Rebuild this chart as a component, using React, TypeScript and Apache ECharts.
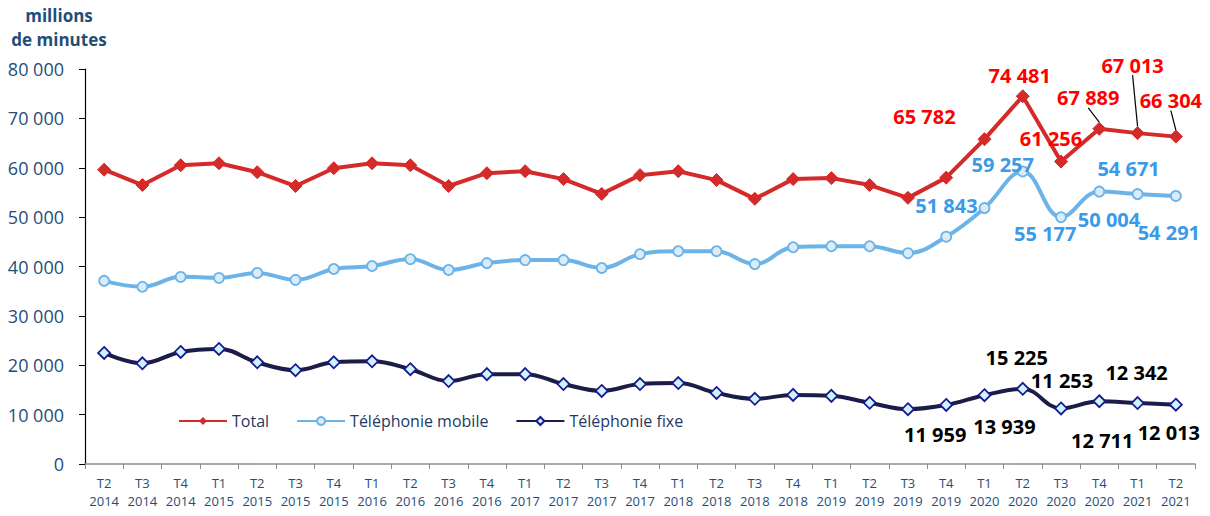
import React, { useEffect, useRef } from "react";
import * as echarts from "echarts";

const categories = [
  "T2\n2014", "T3\n2014", "T4\n2014",
  "T1\n2015", "T2\n2015", "T3\n2015", "T4\n2015",
  "T1\n2016", "T2\n2016", "T3\n2016", "T4\n2016",
  "T1\n2017", "T2\n2017", "T3\n2017", "T4\n2017",
  "T1\n2018", "T2\n2018", "T3\n2018", "T4\n2018",
  "T1\n2019", "T2\n2019", "T3\n2019", "T4\n2019",
  "T1\n2020", "T2\n2020", "T3\n2020", "T4\n2020",
  "T1\n2021", "T2\n2021",
];

const total = [59600, 56500, 60500, 60900, 59100, 56300, 59900, 60900, 60500, 56300, 58900, 59300, 57700, 54700, 58500, 59300, 57500, 53700, 57700, 57900, 56500, 53900, 58000, 65782, 74481, 61256, 67889, 67013, 66304];
const mobile = [37100, 35900, 37900, 37700, 38700, 37300, 39500, 40100, 41500, 39300, 40700, 41300, 41300, 39700, 42500, 43100, 43100, 40500, 43900, 44100, 44100, 42700, 46041, 51843, 59257, 50004, 55177, 54671, 54291];
const fixe = [22500, 20400, 22700, 23300, 20600, 19000, 20600, 20800, 19200, 16800, 18200, 18200, 16200, 14800, 16200, 16400, 14400, 13200, 14000, 13800, 12400, 11100, 11959, 13939, 15225, 11253, 12711, 12342, 12013];

const yTicks = [0, 10000, 20000, 30000, 40000, 50000, 60000, 70000, 80000];

// label placement (pixel offsets from the point)
const totalOffsets: Record<number, number[]> = { 23: [-60, -23], 24: [-3, -21], 25: [-10, -23], 26: [-11, -31], 27: [-5, -68], 28: [-5, -36] };
const totalLeader: Record<number, boolean> = { 26: true, 27: true, 28: true };
const mobileOffsets: Record<number, number[]> = { 23: [-38, -3], 24: [-20, -7], 25: [48, 2], 26: [-54, 42], 27: [-9, -26], 28: [-7, 37] };
const fixeOffsets: Record<number, number[]> = { 22: [-11, 30], 23: [20, 31], 24: [-6, -31], 25: [1, -28], 26: [3, 39], 27: [-1, -31], 28: [-7, 28] };

const fmt = (v: number) => String(Math.round(v)).replace(/\B(?=(\d{3})+(?!\d))/g, " ");
const FONT = "'Open Sans', 'Noto Sans', sans-serif";

function buildData(values: number[], offsets: Record<number, number[]>, leader: Record<number, boolean>, color: string) {
  return values.map((v, i) => {
    if (offsets[i]) {
      return {
        value: v,
        label: {
          show: true,
          position: "inside",
          formatter: () => fmt(v),
          color,
          fontSize: 20,
          fontWeight: "bold",
          fontFamily: FONT,
        },
        labelLine: leader[i] ? { show: true, lineStyle: { color: "#000", width: 1.2 } } : { show: false },
      };
    }
    return { value: v };
  });
}

const layoutFrom = (offsets: Record<number, number[]>) => (p: any) => {
  const o = offsets[p.dataIndex];
  return o ? { dx: o[0], dy: o[1] } : {};
};

export default function App() {
  const ref = useRef<HTMLDivElement>(null);
  useEffect(() => {
    if (!ref.current) return;
    const chart = echarts.init(ref.current, undefined, { renderer: "svg" });
    chart.setOption({
      animation: false,
      backgroundColor: "#fff",
      grid: { left: 85, right: 15, top: 69, bottom: 52, outerBoundsMode: "none" },
      graphic: [
        {
          type: "text",
          x: 59,
          y: 3,
          style: {
            text: "millions\nde minutes",
            fontSize: 17,
            fontWeight: "bold",
            fontFamily: FONT,
            fill: "#1F4E79",
            align: "center",
            verticalAlign: "top",
            lineHeight: 24,
          },
        },
      ],
      legend: {
        left: 178,
        top: 413,
        padding: 0,
        itemWidth: 48,
        itemHeight: 10,
        itemGap: 27,
        textStyle: { color: "#1F3864", fontSize: 16, fontFamily: FONT },
        data: ["Total", "Téléphonie mobile", "Téléphonie fixe"],
      },
      xAxis: {
        type: "category",
        data: categories,
        boundaryGap: true,
        axisLine: { lineStyle: { color: "#8c8c8c", width: 1.5 } },
        axisTick: { show: true, length: 5, lineStyle: { color: "#8c8c8c" } },
        axisLabel: {
          interval: 0,
          color: "#1F4E79",
          fontSize: 13,
          fontFamily: FONT,
          lineHeight: 18,
          margin: 10,
        },
      },
      yAxis: {
        type: "value",
        min: yTicks[0],
        max: yTicks[yTicks.length - 1],
        interval: 10000,
        splitLine: { show: false },
        axisLine: { show: true, lineStyle: { color: "#000", width: 1.2 } },
        axisTick: { show: true, length: 6, lineStyle: { color: "#000" } },
        axisLabel: {
          color: "#1F4E79",
          fontSize: 18,
          fontFamily: FONT,
          margin: 21,
          formatter: (v: number) => fmt(v),
        },
      },
      series: [
        {
          name: "Total",
          type: "line",
          data: buildData(total, totalOffsets, totalLeader, "#FF0000"),
          symbol: "diamond",
          symbolSize: 13,
          lineStyle: { color: "#D42A2A", width: 4 },
          itemStyle: { color: "#D42A2A", borderColor: "#D42A2A" },
          labelLayout: layoutFrom(totalOffsets),
          z: 3,
        },
        {
          name: "Téléphonie mobile",
          type: "line",
          data: buildData(mobile, mobileOffsets, {}, "#3A9AE8"),
          smooth: 0.4,
          symbol: "circle",
          symbolSize: 10,
          lineStyle: { color: "#6CB4E8", width: 4 },
          itemStyle: { color: "#DCEBF8", borderColor: "#6CB4E8", borderWidth: 1.8 },
          labelLayout: layoutFrom(mobileOffsets),
          z: 2,
        },
        {
          name: "Téléphonie fixe",
          type: "line",
          data: buildData(fixe, fixeOffsets, {}, "#000000"),
          smooth: 0.4,
          symbol: "diamond",
          symbolSize: 12,
          lineStyle: { color: "#1C1C48", width: 4 },
          itemStyle: { color: "#CCF4FF", borderColor: "#1A1A8C", borderWidth: 1.8 },
          labelLayout: layoutFrom(fixeOffsets),
          z: 2,
        },
      ],
    });
    return () => chart.dispose();
  }, []);
  return <div ref={ref} style={{ position: "absolute", left: 0, top: 0, width: 1210, height: 516 }} />;
}
